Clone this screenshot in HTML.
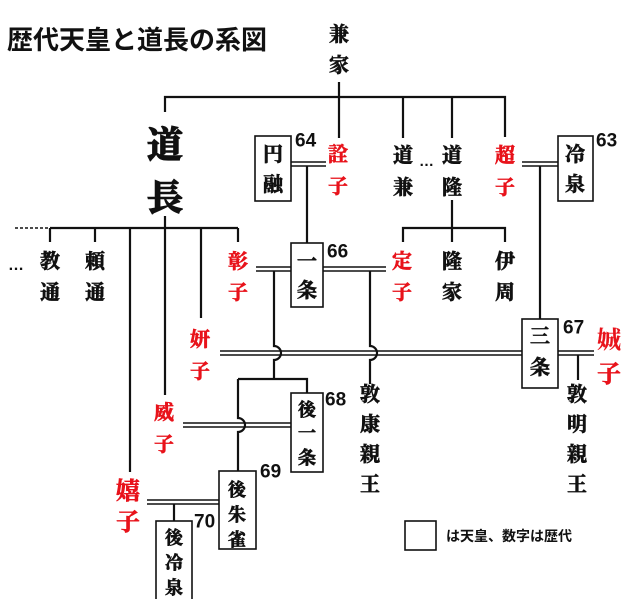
<!DOCTYPE html>
<html><head><meta charset="utf-8"><style>
html,body{margin:0;padding:0;background:#fff;}
svg{display:block;}
.n{font-family:"Liberation Serif","Noto Serif CJK JP",serif;font-size:20px;font-weight:bold;text-anchor:middle;dominant-baseline:central;fill:#111;stroke:#111;stroke-width:0.7;}
.r{fill:#e8131b;stroke:#e8131b;}
.num{font-family:"Liberation Sans",sans-serif;font-size:19px;font-weight:bold;fill:#111;dominant-baseline:central;}
.l{stroke:#111;stroke-width:2.2;fill:none;}
.d{stroke:#111;stroke-width:1.4;fill:none;}
.b{stroke:#111;stroke-width:1.6;fill:#fff;}
</style></head><body>
<svg width="640" height="599" viewBox="0 0 640 599" xmlns="http://www.w3.org/2000/svg">
<text x="7" y="40" style="font-family:'Liberation Sans','Noto Sans CJK JP',sans-serif;font-size:26px;font-weight:bold;dominant-baseline:central;fill:#111">歴代天皇と道長の系図</text>

<!-- 兼家 -->
<text class="n" x="339" y="35">兼</text><text class="n" x="339" y="66">家</text>
<path class="l" d="M339 82V97M165 112V97H505V137M339 97V138M403 97V138M452 97V138"/>

<!-- 道長 -->
<text class="n" x="165" y="145" style="font-size:36px;stroke-width:1.4">道</text>
<text class="n" x="165" y="198" style="font-size:36px;stroke-width:1.4">長</text>
<path class="l" d="M165 216V228M50 228H238M50 228V242M95 228V242M130 228V472M165 228V395M201 228V318M238 228V242"/>
<path d="M15 228H49" stroke="#111" stroke-width="1.6" stroke-dasharray="3,2"/>
<text x="8" y="270" style="font-family:'Liberation Sans',sans-serif;font-size:16px;font-weight:bold;fill:#111">…</text>
<text class="n" x="50" y="262">教</text><text class="n" x="50" y="293">通</text>
<text class="n" x="95" y="262">頼</text><text class="n" x="95" y="293">通</text>

<!-- 円融 -->
<rect class="b" x="255" y="136" width="36" height="65"/>
<text class="n" x="273" y="155">円</text><text class="n" x="273" y="185">融</text>
<text class="num" x="295" y="141">64</text>
<text class="n r" x="338" y="155">詮</text><text class="n r" x="338" y="187">子</text>
<path class="d" d="M291 162H326M291 166H326"/>
<path class="l" d="M307 166V243"/>

<!-- 道兼 道隆 超子 -->
<text class="n" x="403" y="156">道</text><text class="n" x="403" y="188">兼</text>
<text x="419" y="166" style="font-family:'Liberation Sans',sans-serif;font-size:15px;font-weight:bold;fill:#111">…</text>
<text class="n" x="452" y="156">道</text><text class="n" x="452" y="188">隆</text>
<text class="n r" x="505" y="156">超</text><text class="n r" x="505" y="188">子</text>
<path class="l" d="M452 200V228M403 242V228H505V242M452 228V242"/>

<!-- 冷泉 -->
<rect class="b" x="558" y="136" width="35" height="65"/>
<text class="n" x="575" y="155">冷</text><text class="n" x="575" y="185">泉</text>
<text class="num" x="596" y="141">63</text>
<path class="d" d="M522 162H558M522 166H558"/>
<path class="l" d="M540 166V319"/>

<!-- 一条 -->
<text class="n r" x="238" y="262">彰</text><text class="n r" x="238" y="293">子</text>
<rect class="b" x="291" y="243" width="32" height="64"/>
<text class="n" x="307" y="262">一</text><text class="n" x="307" y="291">条</text>
<text class="num" x="327" y="252">66</text>
<path class="d" d="M256 267H291M256 271H291M323 267H386M323 271H386"/>
<text class="n r" x="402" y="262">定</text><text class="n r" x="402" y="293">子</text>
<text class="n" x="452" y="262">隆</text><text class="n" x="452" y="293">家</text>
<text class="n" x="505" y="262">伊</text><text class="n" x="505" y="293">周</text>

<!-- 三条 line -->
<text class="n r" x="200" y="340">妍</text><text class="n r" x="200" y="372">子</text>
<path class="d" d="M220 351H522M220 355H522M558 351H594M558 355H594"/>
<path class="l" d="M274 271V346A7 7 0 0 1 274 360V379M370 271V346A7 7 0 0 1 370 360V384"/>
<rect class="b" x="522" y="319" width="36" height="69"/>
<text class="n" x="540" y="337">三</text><text class="n" x="540" y="368">条</text>
<text class="num" x="563" y="328">67</text>
<text class="n r" x="609" y="341" style="font-size:24px;stroke-width:0.2">娍</text>
<text class="n r" x="609" y="375" style="font-size:24px">子</text>
<path class="l" d="M578 355V380"/>
<text class="n" x="577" y="395">敦</text><text class="n" x="577" y="425">明</text><text class="n" x="577" y="455">親</text><text class="n" x="577" y="485">王</text>
<text class="n" x="370" y="395">敦</text><text class="n" x="370" y="425">康</text><text class="n" x="370" y="455">親</text><text class="n" x="370" y="485">王</text>

<!-- 後一条 -->
<path class="l" d="M238 379H307V393M238 379V418A7 7 0 0 1 238 432V471"/>
<text class="n r" x="164" y="413">威</text><text class="n r" x="164" y="445">子</text>
<path class="d" d="M183 423H291M183 427H291"/>
<rect class="b" x="291" y="393" width="32" height="79"/>
<text class="n" x="307" y="410" style="font-size:18px">後</text><text class="n" x="307" y="433" style="font-size:18px">一</text><text class="n" x="307" y="458" style="font-size:18px">条</text>
<text class="num" x="325" y="400">68</text>

<!-- 後朱雀 -->
<text class="n r" x="128" y="492" style="font-size:24px">嬉</text><text class="n r" x="128" y="523" style="font-size:24px">子</text>
<path class="d" d="M147 500H219M147 504H219"/>
<path class="l" d="M174 504V521"/>
<rect class="b" x="219" y="471" width="37" height="78"/>
<text class="n" x="237" y="490" style="font-size:18px">後</text><text class="n" x="237" y="515" style="font-size:18px">朱</text><text class="n" x="237" y="540" style="font-size:18px">雀</text>
<text class="num" x="260" y="472">69</text>

<!-- 後冷泉 -->
<rect class="b" x="156" y="521" width="36" height="80"/>
<text class="n" x="174" y="538" style="font-size:18px">後</text><text class="n" x="174" y="563" style="font-size:18px">冷</text><text class="n" x="174" y="588" style="font-size:18px">泉</text>
<text class="num" x="194" y="522">70</text>

<!-- legend -->
<rect class="b" x="405" y="521" width="31" height="29"/>
<text x="446" y="536" style="font-family:'Liberation Sans','Noto Sans CJK JP',sans-serif;font-size:14px;font-weight:bold;dominant-baseline:central;fill:#111">は天皇、数字は歴代</text>
</svg>
</body></html>
